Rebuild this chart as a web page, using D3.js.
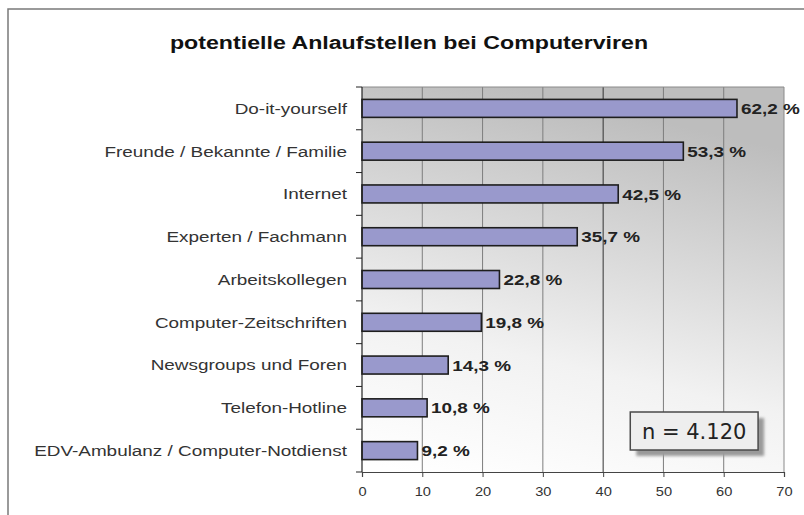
<!DOCTYPE html>
<html>
<head>
<meta charset="utf-8">
<script src="https://cdn.jsdelivr.net/npm/d3@7"></script>
<style>
  body { margin: 0; background: #fff; }
  svg { display: block; }
</style>
</head>
<body>
<div id="chart"></div>
<script>
const title = "potentielle Anlaufstellen bei Computerviren";
const categories = [
  "Do-it-yourself",
  "Freunde / Bekannte / Familie",
  "Internet",
  "Experten / Fachmann",
  "Arbeitskollegen",
  "Computer-Zeitschriften",
  "Newsgroups und Foren",
  "Telefon-Hotline",
  "EDV-Ambulanz / Computer-Notdienst"
];
const values = [62.2, 53.3, 42.5, 35.7, 22.8, 19.8, 14.3, 10.8, 9.2];
const xTicks = [0, 10, 20, 30, 40, 50, 60, 70];
const sampleNote = "n = 4.120";

const width = 804, height = 515;
const plot = { left: 362, right: 784, top: 87, bottom: 472 };
const sx = 1.22; // the source picture is stretched sideways a little

const svg = d3.select("#chart").append("svg")
  .attr("width", width).attr("height", height);

const defs = svg.append("defs");
const grad = defs.append("linearGradient")
  .attr("id", "bg").attr("x1", 0.1).attr("y1", 1).attr("x2", 0.35).attr("y2", 0);
grad.append("stop").attr("offset", 0).attr("stop-color", "#ffffff");
grad.append("stop").attr("offset", 0.35).attr("stop-color", "#f2f2f2");
grad.append("stop").attr("offset", 1).attr("stop-color", "#bdbdbd");

const blur = defs.append("filter").attr("id", "shadow")
  .attr("x", "-20%").attr("y", "-20%").attr("width", "140%").attr("height", "160%");
blur.append("feGaussianBlur").attr("stdDeviation", 1.5);

// outer frame
svg.append("path")
  .attr("d", `M8,${height} V9 H${width}`)
  .attr("fill", "none").attr("stroke", "#7a7a7a").attr("stroke-width", 1.5);

const x = d3.scaleLinear().domain([0, 70]).range([plot.left, plot.right]);
const y = d3.scaleBand().domain(categories)
  .range([plot.top, plot.bottom]).paddingInner(0.58).paddingOuter(0.29);

// plot background
svg.append("rect")
  .attr("x", plot.left).attr("y", plot.top)
  .attr("width", plot.right - plot.left).attr("height", plot.bottom - plot.top)
  .attr("fill", "url(#bg)");

// vertical gridlines
svg.append("g").selectAll("line")
  .data(xTicks.slice(1, -1))
  .join("line")
  .attr("x1", d => x(d)).attr("x2", d => x(d))
  .attr("y1", plot.top).attr("y2", plot.bottom)
  .attr("stroke", d => d === 40 ? "#333" : "#7d7d7d")
  .attr("stroke-width", 1);

// plot border top + right
svg.append("path")
  .attr("d", `M${plot.left},${plot.top} H${plot.right} V${plot.bottom}`)
  .attr("fill", "none")
  .attr("stroke", "#8a8a8a");

// bars
svg.append("g").selectAll("rect")
  .data(values)
  .join("rect")
  .attr("x", x(0))
  .attr("y", (d, i) => y(categories[i]))
  .attr("width", d => x(d) - x(0))
  .attr("height", y.bandwidth())
  .attr("fill", "#9999cc")
  .attr("stroke", "#1e1e1e")
  .attr("stroke-width", 1.6);

// value labels
svg.append("g").selectAll("text")
  .data(values)
  .join("text")
  .attr("transform", (d, i) =>
    `translate(${x(d) + 4},${y(categories[i]) + y.bandwidth() / 2}) scale(${sx},1)`)
  .attr("dy", "0.36em")
  .attr("font-family", "Liberation Sans, Arial, sans-serif")
  .attr("font-weight", "bold")
  .attr("font-size", 15.5)
  .attr("fill", "#222")
  .text(d => d3.format(".1f")(d).replace(".", ",") + " %");

// left axis line + ticks at band boundaries
const step = y.step();
const bounds = d3.range(categories.length + 1).map(i => plot.top + i * step);
svg.append("line")
  .attr("x1", plot.left).attr("x2", plot.left)
  .attr("y1", plot.top).attr("y2", plot.bottom)
  .attr("stroke", "#222").attr("stroke-width", 1.2);
svg.append("g").selectAll("line")
  .data(bounds)
  .join("line")
  .attr("x1", plot.left - 6).attr("x2", plot.left)
  .attr("y1", d => d).attr("y2", d => d)
  .attr("stroke", "#222");

// category labels
svg.append("g").selectAll("text")
  .data(categories)
  .join("text")
  .attr("transform", d => `translate(347,${y(d) + y.bandwidth() / 2}) scale(${sx},1)`)
  .attr("dy", "0.35em")
  .attr("text-anchor", "end")
  .attr("font-family", "Liberation Sans, Arial, sans-serif")
  .attr("font-size", 15.5)
  .attr("fill", "#333")
  .text(d => d);

// bottom axis
const xAxis = svg.append("g")
  .attr("transform", `translate(0,${plot.bottom})`)
  .call(d3.axisBottom(x).tickValues(xTicks).tickSize(5).tickPadding(10));
xAxis.select(".domain").attr("stroke", "#444").attr("stroke-width", 1.2);
xAxis.selectAll(".tick line").attr("stroke", "#444");
xAxis.selectAll(".tick text")
  .attr("font-family", "Liberation Sans, Arial, sans-serif")
  .attr("font-size", 12)
  .attr("fill", "#333")
  .attr("transform", `scale(${sx},1)`);

// title
svg.append("text")
  .attr("transform", `translate(409,49) scale(${sx},1)`)
  .attr("text-anchor", "middle")
  .attr("font-family", "Liberation Sans, Arial, sans-serif")
  .attr("font-weight", "bold")
  .attr("font-size", 19)
  .attr("fill", "#111")
  .text(title);

// n box with shadow
const box = { x: x(44.5), y: 412, w: x(65.7) - x(44.5), h: 38 };
svg.append("rect")
  .attr("x", box.x + 6).attr("y", box.y + 6)
  .attr("width", box.w).attr("height", box.h)
  .attr("fill", "#9a9a9a").attr("filter", "url(#shadow)");
svg.append("rect")
  .attr("x", box.x).attr("y", box.y)
  .attr("width", box.w).attr("height", box.h)
  .attr("fill", "#eeeeee").attr("stroke", "#4a4a4a").attr("stroke-width", 1.5);
svg.append("text")
  .attr("x", box.x + box.w / 2).attr("y", box.y + box.h / 2)
  .attr("dy", "0.36em")
  .attr("text-anchor", "middle")
  .attr("font-family", "DejaVu Sans, Verdana, sans-serif")
  .attr("font-size", 21)
  .attr("fill", "#222")
  .text(sampleNote);
</script>
</body>
</html>
